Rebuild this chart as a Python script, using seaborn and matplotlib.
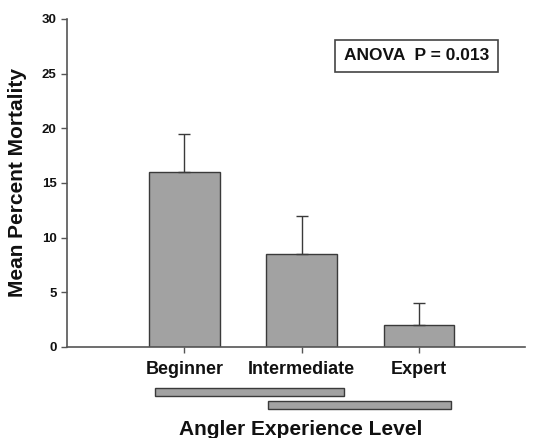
import matplotlib
matplotlib.use('Agg')
import matplotlib.pyplot as plt
import matplotlib.transforms as mtransforms
import seaborn as sns
import pandas as pd

levels = ['Beginner', 'Intermediate', 'Expert']
mortality = [16.0, 8.5, 2.0]
err_upper = [3.5, 3.5, 2.0]
# homogeneous-subset bars below the axis (span in category units)
subset_spans = [(-0.25, 1.36), (0.71, 2.27)]
y_ticks = [0, 5, 10, 15, 20, 25, 30]

sns.set_style('ticks')
plt.rcParams['font.family'] = ['Liberation Sans', 'DejaVu Sans']
plt.rcParams['font.weight'] = 'bold'
plt.rcParams['text.color'] = '#111111'
plt.rcParams['axes.labelcolor'] = '#111111'
plt.rcParams['xtick.labelcolor'] = '#111111'
plt.rcParams['ytick.labelcolor'] = '#111111'

df = pd.DataFrame({'level': levels, 'mortality': mortality})

fig = plt.figure(figsize=(5.35, 4.38), dpi=100)
ax = fig.add_axes([0.125, 0.208, 0.856, 0.749])

sns.barplot(data=df, x='level', y='mortality', color='#a2a2a2', width=0.6,
            edgecolor='#3a3a3a', linewidth=1.0, saturation=1, ax=ax, errorbar=None)
ax.errorbar(range(len(levels)), mortality, yerr=[[0] * len(levels), err_upper],
            fmt='none', ecolor='#3a3a3a', elinewidth=1.0, capsize=4.3, capthick=1.0)

ax.set_xlim(-1.0, 2.9)
ax.set_ylim(0, 30)
ax.set_yticks(y_ticks)
ax.tick_params(axis='y', labelsize=9.5, length=4, color='#555555', width=1)
ax.tick_params(axis='x', labelsize=13, length=4, color='#555555', width=1, pad=6)
for s in ['top', 'right']:
    ax.spines[s].set_visible(False)
for s in ['left', 'bottom']:
    ax.spines[s].set_color('#555555')
    ax.spines[s].set_linewidth(1.2)

ax.set_xlabel('Angler Experience Level', fontsize=15, fontweight='bold')
ax.xaxis.set_label_coords(0.51, -0.222)
ax.set_ylabel('Mean Percent Mortality', fontsize=15, fontweight='bold')
ax.yaxis.set_label_coords(-0.088, 0.5)

trans = mtransforms.blended_transform_factory(ax.transData, ax.transAxes)
for i, (x0, x1) in enumerate(subset_spans):
    y = -0.150 - i * 0.040
    ax.add_patch(plt.Rectangle((x0, y), x1 - x0, 0.026, transform=trans,
                               facecolor='#a2a2a2', edgecolor='#3a3a3a',
                               linewidth=1.0, clip_on=False))

ax.text(0.764, 0.887, 'ANOVA  P = 0.013', transform=ax.transAxes, fontsize=12.5,
        fontweight='bold', ha='center', va='center',
        bbox=dict(boxstyle='square,pad=0.5', facecolor='white', edgecolor='#444444', linewidth=1.2))

fig.savefig('out.png', dpi=100)
